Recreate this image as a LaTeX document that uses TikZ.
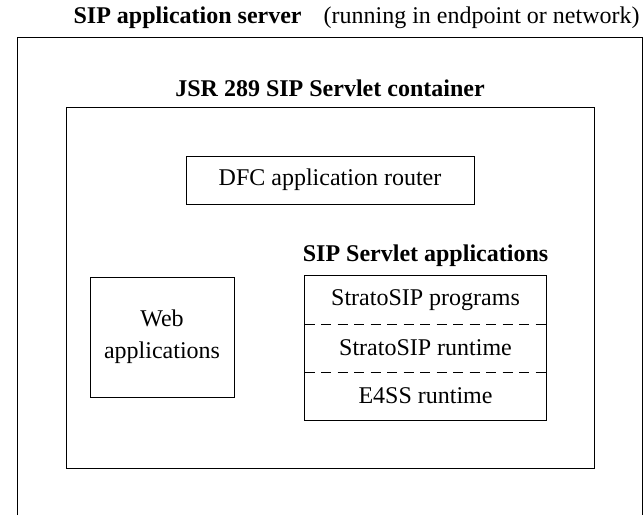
\documentclass[tikz,border=0pt]{standalone}
\usepackage{fontspec}
\setmainfont{Liberation Serif}
\begin{document}
\begin{tikzpicture}[x=1pt, y=-1pt, line width=0.9pt,
  txt/.style={font=\fontsize{24}{32}\selectfont, inner sep=0pt},
  head/.style={font=\fontsize{24}{32}\selectfont\bfseries, inner sep=0pt},
  box/.style={draw, txt, align=center},
  layer/.style={txt, minimum width=241pt, minimum height=48pt},
  sep/.style={dash pattern=on 10pt off 6.5pt}]
\useasboundingbox (0,0) rectangle (644,515);

% application server frame, open at the bottom
\coordinate (srvbl) at (17,515);
\coordinate (srvtl) at (17,37);
\coordinate (srvtr) at (642,37);
\coordinate (srvbr) at (642,515);
\draw (srvbl) -- (srvtl) -- (srvtr) -- (srvbr);
\node[txt, anchor=east] (srvtitle) at (640,18)
  {\textbf{SIP application server}\hspace{16pt} (running in endpoint or network)};

% servlet container
\node[draw, minimum width=528pt, minimum height=361pt, inner sep=0pt] (cont) at (330,287.5) {};
\node[head] (conttitle) at (330,88) {JSR 289 SIP Servlet container};

% application router
\node[box, minimum width=288pt, minimum height=48pt] (dfc) at (330,180) {DFC application router};

% web applications
\node[box, minimum width=144pt, minimum height=120pt] (web) at (162,337) {Web\\applications};

% SIP servlet application stack
\node[head] (apptitle) at (425.5,256) {SIP Servlet applications};
\node[layer] (prog) at (425.5,300) {StratoSIP programs};
\node[layer] (rt) at (425.5,348) {StratoSIP runtime};
\node[layer] (e4ss) at (425.5,396) {E4SS runtime};
\draw (prog.north west) rectangle (e4ss.south east);
\draw[sep] (prog.south west) -- (prog.south east);
\draw[sep] (rt.south west) -- (rt.south east);
\end{tikzpicture}
\end{document}
